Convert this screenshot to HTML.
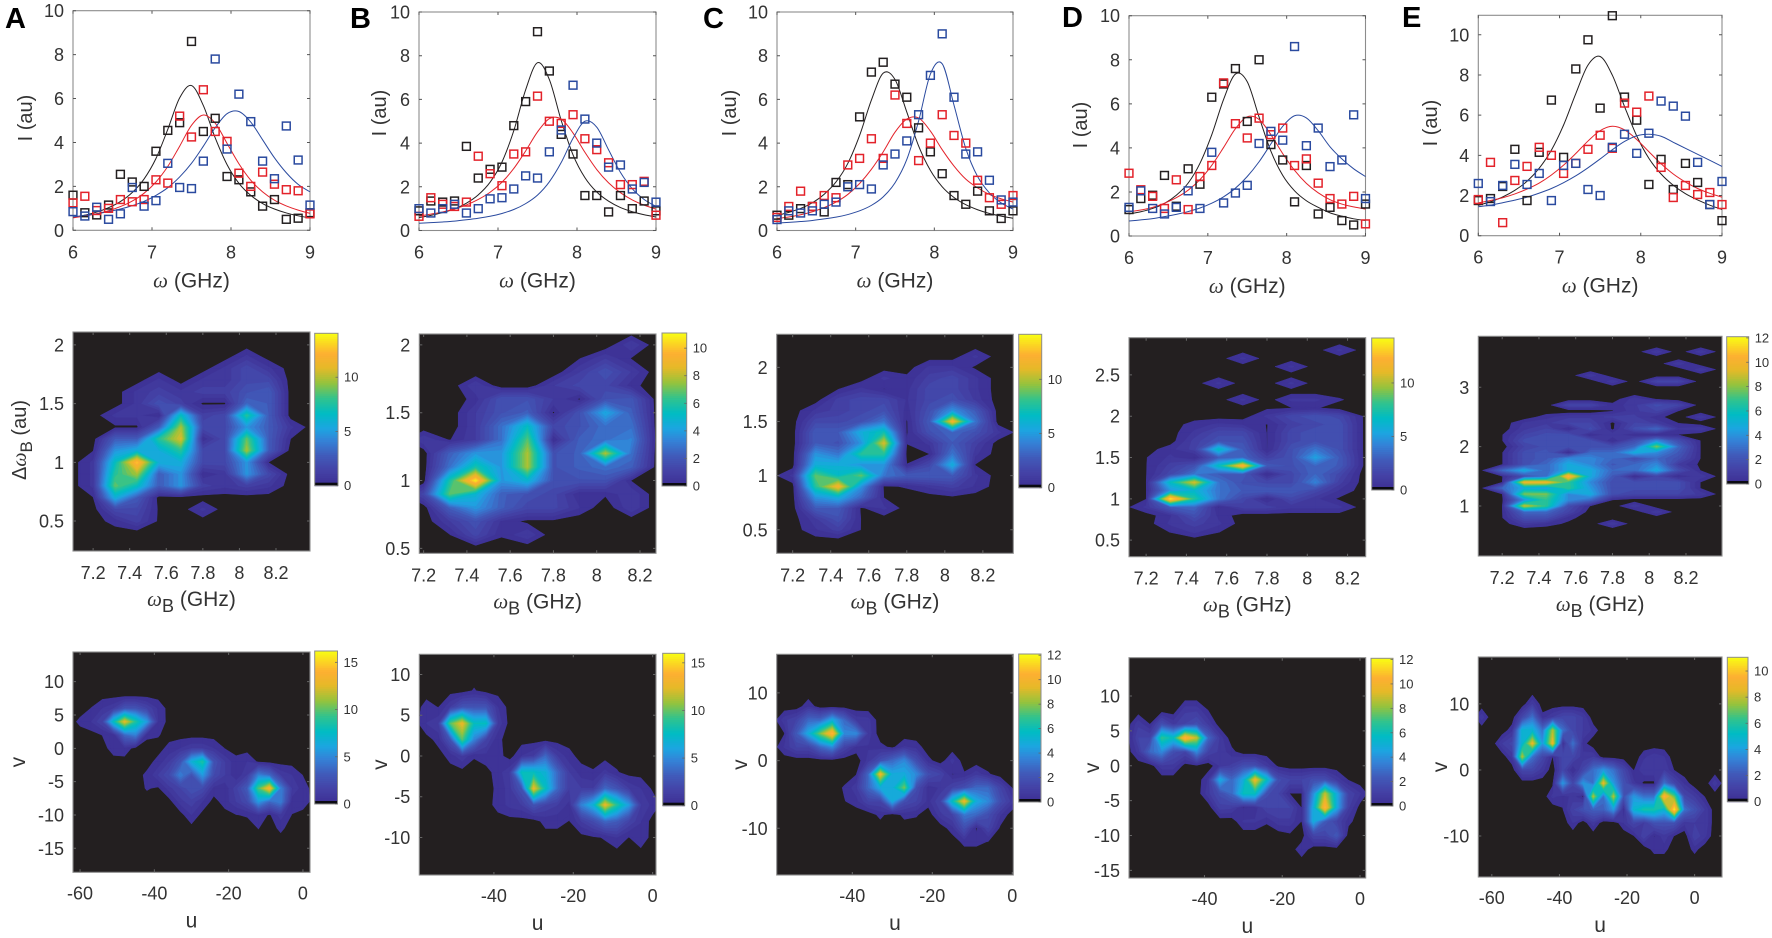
<!DOCTYPE html>
<html lang="en">
<head>
<meta charset="utf-8">
<title>Five-column spectra and contour figure</title>
<style>
html,body{margin:0;padding:0;background:#fff;width:1772px;height:938px;overflow:hidden}
svg{display:block;filter:blur(.35px)}
text{font-family:"Liberation Sans",sans-serif;fill:#333}
</style>
</head>
<body>
<svg id="fig" xmlns="http://www.w3.org/2000/svg" width="1772" height="938" viewBox="0 0 1772 938"></svg>
<script>
/* ---------- spectra data: omega grid, measured points, fitted curves ---------- */
const omega=[6,6.15,6.3,6.45,6.6,6.75,6.9,7.05,7.2,7.35,7.5,7.65,7.8,7.95,8.1,8.25,8.4,8.55,8.7,8.85,9];
const pointsABlack=[1.6,.8,.7,1.15,2.55,2.2,2,3.6,4.55,4.9,8.6,4.5,5.1,2.45,2.3,1.75,1.1,1.4,.5,.55,.8];
const pointsARed=[1.25,1.55,.9,1,1.4,1.3,1.4,2.3,2.15,5.2,4.25,6.4,4.5,4.05,2.6,2,2.65,2.1,1.85,1.8,.75];
const pointsABlue=[.85,.65,1.05,.5,.75,1.95,1.1,1.35,3.05,1.95,1.9,3.15,7.8,3.7,6.2,4.95,3.15,2.35,4.75,3.2,1.15];
const pointsBBlack=[.9,1.35,1.3,1.35,3.85,2.4,2.8,2.9,4.8,5.9,9.1,7.3,4.4,3.5,1.6,1.6,.85,1.6,1,1.35,.9];
const pointsBRed=[.65,1.5,1.2,1.1,1.3,3.4,2.6,2.05,3.5,3.6,6.15,5,4.9,5.3,4.2,3.7,3.1,2.1,2.1,2.25,.7];
const pointsBBlue=[1,.8,1,1.2,.8,1,1.45,1.5,1.9,2.5,2.4,3.6,4.6,6.65,5.1,4,2.9,3,1.9,2.2,1.3];
const pointsCBlack=[.7,.7,1,1.1,.85,2.2,2.1,5.2,7.25,7.7,6.7,6.1,4.7,3.6,2.6,1.6,1.2,1.8,.9,.55,.9];
const pointsCRed=[.6,1.1,1.8,1.1,1.6,1.5,3,3.3,4.2,3.3,6.2,4.9,3.2,4,5.3,4.35,4,2.3,1.5,1.2,1.6];
const pointsCBlue=[.5,.9,.8,.9,1.2,1.3,2,2.1,1.9,3,3.5,4.1,5.3,7.1,9,6.1,3.5,3.6,2.3,1.4,1.3];
const pointsDBlack=[1.2,1.7,1.85,2.75,1.35,3.05,2.35,6.3,6.9,7.6,5.2,8,4.15,3.45,1.55,3.2,1,1.3,.7,.5,1.45];
const pointsDRed=[2.85,2.1,1.8,1.25,2.55,1.2,2.7,3.2,6.95,5.1,4.45,5.35,4.6,4.9,3.2,3.5,2.4,1.7,1.45,1.8,.55];
const pointsDBlue=[1.3,2.05,1.25,1,1.3,2.05,1.25,3.8,1.5,1.95,2.3,4.2,4.75,4.35,8.6,4.1,4.9,3.15,3.45,5.5,1.7];
const pointsEBlack=[1.75,1.85,2.45,4.3,1.75,4.15,6.75,3.9,8.3,9.75,6.35,10.95,6.9,5.75,2.55,3.8,2.3,3.6,2.65,1.55,.75];
const pointsERed=[1.8,3.65,.65,2.75,3.45,4.4,4,3.1,3.6,4.3,5,4.35,6.6,6.15,6.95,3.4,1.9,2.5,2.05,2.15,1.55];
const pointsEBlue=[2.6,1.7,2.5,3.55,2.55,3.1,1.75,3.5,3.6,2.3,2,4.4,5.05,4.1,5.1,6.7,6.45,5.95,3.65,1.55,2.7];

const fitABlack=[.58,.69,.83,1.03,1.31,1.72,2.34,3.27,4.6,6.03,6.59,5.68,4.21,2.99,2.14,1.59,1.22,.97,.79,.66,.56];
const fitARed=[.57,.65,.76,.89,1.08,1.33,1.69,2.2,2.91,3.83,4.78,5.25,4.88,3.96,3.03,2.28,1.75,1.37,1.11,.92,.77];
const fitABlue=[.61,.68,.75,.85,.97,1.12,1.32,1.59,1.94,2.43,3.05,3.83,4.67,5.31,5.41,4.93,4.12,3.3,2.62,2.09,1.75];
const fitBBlack=[.59,.69,.82,.99,1.25,1.63,2.21,3.13,4.57,6.44,7.68,6.91,5.04,3.46,2.42,1.76,1.34,1.05,.86,.72,.62];
const fitBRed=[.66,.75,.85,.99,1.17,1.42,1.75,2.21,2.84,3.64,4.51,5.12,5.1,4.46,3.58,2.79,2.18,1.73,1.4,1.16,.98];
const fitBBlue=[.33,.36,.39,.43,.49,.56,.65,.78,.96,1.23,1.62,2.23,3.11,4.22,5,4.73,3.69,2.66,1.91,1.42,1.1];
const fitCBlack=[.69,.83,1.01,1.27,1.66,2.22,3.07,4.35,5.97,7.2,6.91,5.42,3.87,2.75,2,1.51,1.18,.95,.78,.66,.56];
const fitCRed=[.55,.62,.72,.86,1.05,1.3,1.65,2.15,2.8,3.6,4.5,5.1,5.15,4.55,3.7,2.95,2.35,1.95,1.65,1.45,1.3];
const fitCBlue=[.34,.37,.41,.46,.53,.61,.73,.9,1.15,1.54,2.18,3.25,5.01,7.16,7.63,5.74,3.75,2.47,1.72,1.26,.98];
const fitDBlack=[1,1.1,1.25,1.48,1.85,2.4,3.3,4.6,6.2,7.35,7,5.4,3.85,2.75,2.05,1.6,1.3,1.05,.9,.78,.7];
const fitDRed=[1.1,1.18,1.3,1.49,1.74,2.08,2.56,3.21,4.02,4.87,5.41,5.29,4.6,3.74,2.98,2.39,1.96,1.65,1.45,1.32,1.22];
const fitDBlue=[.68,.73,.79,.88,.98,1.11,1.27,1.49,1.78,2.17,2.7,3.37,4.18,4.98,5.46,5.36,4.78,4.05,3.5,3.05,2.7];
const fitEBlack=[1.51,1.69,1.93,2.26,2.71,3.36,4.26,5.51,7.07,8.49,8.92,7.99,6.43,4.97,3.85,3.07,2.51,2.09,1.78,1.52,1.3];
const fitERed=[1.63,1.75,1.89,2.08,2.32,2.62,3.02,3.51,4.09,4.71,5.23,5.45,5.27,4.79,4.18,3.58,3.07,2.67,2.35,2.11,1.92];
const fitEBlue=[1.44,1.52,1.64,1.77,1.92,2.12,2.35,2.64,2.98,3.38,3.82,4.28,4.69,4.97,5.05,4.95,4.65,4.35,4.05,3.75,3.45];

/* ---------- middle-row contour data: wB columns, dw rows, intensity grid ---------- */
const wBGrid=[7.08,7.2,7.32,7.44,7.56,7.68,7.8,7.92,8.04,8.16,8.28,8.4];
const dwA=[1.9,1.8,1.7,1.6,1.5,1.4,1.3,1.2,1.1,1,.9,.8,.7,.6,.5];
const midA=[
[0,0,0,0,0,0,0,0,1,0,0,0],
[0,0,0,0,0,0,0,1,2,1,0,0],
[0,0,0,0,1,0,1,1,2,2,0,0],
[0,0,0,1,1.5,1,1.5,1.5,2.5,3,0,0],
[0,0,0,1,2.5,1.5,.2,.2,3.5,3,0,0],
[0,0,1,1,.3,7,1.5,2,8,3,0,0],
[0,0,.2,.2,3,10,2,2,5,3,1,0],
[0,0,3,3,8,11,.5,2,9,3,.33,0],
[0,.3,5,6,6,8,2,2,10,3,0,0],
[0,1,7,13,6,6,2,2,5,.3,0,0],
[0,1,8,10,3,5,.5,1,5,2,0,0],
[0,1,9,7,3,5,1.5,1,1.5,1,0,0],
[0,.3,6,3,0,0,0,0,0,0,0,0],
[0,0,2,2,.2,0,1,0,0,0,0,0],
[0,0,.6,1.5,.2,0,0,0,0,0,0,0]];
const dwB=[2,1.9,1.8,1.7,1.6,1.5,1.4,1.3,1.2,1.1,1,.9,.8,.7,.6];
const midB=[
[0,0,0,0,0,0,0,0,0,1,0,0],
[0,0,0,0,0,0,0,.3,1,.3,0,0],
[0,0,0,0,0,0,0,1,2,1,0,0],
[0,0,0,1,0,0,1,1.5,1.5,.5,0,0],
[0,0,0,.5,2,2,1,.25,2,2.2,0,0],
[0,0,0,1,2,2.5,.25,2,4.5,2.5,0,0],
[0,0,0,1,3,5.5,1.5,2,3,3,0,0],
[0,1,.3,1,3,7,.3,2.5,3,3.5,0,0],
[0,0,2.5,4,4,8,2,2.5,8,3,0,0],
[0,0,3,6,4,8,2,2.5,3,2.5,0,0],
[0,0,6,11,4,5,2,2,2,.3,0,0],
[0,1.5,7,5,2.5,2,1.5,.4,.4,1,0,0],
[0,0,2.5,4,2.5,1.5,1.5,.7,0,1,0,0],
[0,0,1,2,.6,.2,.2,0,0,0,0,0],
[0,0,.3,1.5,.4,1,0,0,0,0,0,0]];
const dwC=[2.1,2,1.9,1.8,1.7,1.6,1.5,1.4,1.3,1.2,1.1,1,.9,.8,.7,.6,.5];
const midC=[
[0,0,0,0,0,0,0,0,0,1,0,0],
[0,0,0,0,0,0,0,1,1,.2,0,0],
[0,0,0,0,0,1,.5,1.5,2,1,0,0],
[0,0,0,.3,1,.3,.7,2,2,1,0,0],
[0,0,0,1.5,2,2,.8,2,2.5,1.2,0,0],
[0,0,1,1.5,2,2.5,.6,2.5,5,3,0,0],
[0,0,2,2,2.5,4,.25,3,12,4,0,0],
[0,0,3,3,6,7.5,.25,2.5,3.5,2.5,1,0],
[0,0,3,2.5,5,11,.35,1,3,1.5,0,0],
[0,0,5,4,8,8,.1,.33,4,1,0,0],
[0,0,6,6,5,5,.35,2,6,.3,0,0],
[0,1,9,7,9,4,3,3,3,1,0,0],
[0,0,8,12,5,.2,.4,1,1.5,.8,0,0],
[0,0,5,6,3.5,.3,0,0,.2,0,0,0],
[0,0,3,3,.2,1,0,0,0,0,0,0],
[0,0,1.2,2.5,.3,0,0,0,0,0,0,0],
[0,0,.8,1.5,.3,0,0,0,0,0,0,0]];
const dwD=[2.8,2.7,2.6,2.5,2.4,2.3,2.2,2.1,2,1.9,1.8,1.7,1.6,1.5,1.4,1.3,1.2,1.1,1,.9,.8,.7,.6];
const midD=[
[0,0,0,0,0,0,0,0,0,1,0,0],
[0,0,0,0,0,1,0,0,0,0,0,0],
[0,0,0,0,0,0,0,1,0,0,0,0],
[0,0,0,0,0,0,0,0,0,0,0,0],
[0,0,0,0,1,0,0,1,0,0,0,0],
[0,0,0,0,0,0,0,0,0,0,0,0],
[0,0,0,0,0,1,0,1,1,.4,0,0],
[0,0,0,0,0,0,.2,.3,.4,0,0,0],
[0,0,0,0,0,0,1,2,2.5,2,.25,0],
[0,0,0,.6,1,.8,.3,1.5,2,2.5,.25,0],
[0,0,0,1,2,2,.3,2,2.5,2.5,.25,0],
[0,0,0,1.5,2.5,2.5,.3,2,2.5,2.5,.25,0],
[0,0,.7,1.5,7,3,.3,2.5,4,2.5,.25,0],
[0,.3,1,.3,3,3.5,1.5,2.5,5.5,3,.25,0],
[0,.3,1.5,2.5,7,12.5,3,2.5,3.5,3,.25,0],
[0,.3,2,4,3,3,.3,2,3.5,2,0,0],
[0,.3,7,11,4,2.5,2,2,4.5,1.5,0,0],
[0,.3,5,6.5,4,3,3,3,2,.8,0,0],
[0,.3,14,8,4,2,.25,2,1,.2,0,0],
[0,1,3,3.5,.3,1.5,1.5,1,1,1,0,0],
[0,0,.8,2.5,.7,0,0,0,0,0,0,0],
[0,0,1,1.5,1,0,0,0,0,0,0,0],
[0,0,.35,1,.35,0,0,0,0,0,0,0]];
const dwE=[3.6,3.5,3.4,3.3,3.2,3.1,3,2.9,2.8,2.7,2.6,2.5,2.4,2.3,2.2,2.1,2,1.9,1.8,1.7,1.6,1.5,1.4,1.3,1.2,1.1,1,.9,.8,.7];
const midE=[
[0,0,0,0,0,0,0,0,1,0,1,0],
[0,0,0,0,0,0,0,0,0,0,0,0],
[0,0,0,0,0,0,0,0,0,1,0,0],
[0,0,0,0,0,0,0,0,0,0,1,0],
[0,0,0,0,0,1,0,0,0,0,0,0],
[0,0,0,0,0,0,1,0,1.5,1.5,0,0],
[0,0,0,0,0,0,0,0,0,0,0,0],
[0,0,0,0,0,0,0,0,0,0,0,0],
[0,0,0,0,0,0,0,1,.3,0,0,0],
[0,0,0,0,1.5,1.5,.5,1,2,1.5,0,0],
[0,0,0,0,0,0,.3,1,1.5,.3,0,0],
[0,0,0,.6,1,1,1.2,1.2,.5,0,1,0],
[0,0,.8,1,1.5,1.5,.2,1.5,1,.3,0,0],
[0,0,1,1.5,.3,2,.2,2,3,.8,1,0],
[0,.3,1.5,2,2,.3,1,.3,.3,.3,0,0],
[0,.3,2,2,2,2,.3,2,4,2,.3,0],
[0,0,1.5,2,2,2,2,3,8,3,.3,0],
[0,.3,2,2.5,.3,3,3,5,4,2.5,.3,0],
[0,.3,2,2.5,4,4,3,2,3,2,.3,0],
[0,.3,2,3,5,4,2.5,3,4,1,.2,0],
[0,3,5,3,5,5,3,3,5,2,.3,0],
[0,.3,2,3,11,5,2.5,.3,1.5,.3,1,0],
[0,.3,10,10,7,4,2,2,2,2,.3,0],
[0,3,5,4.5,7,4.5,2,2,2,2,.3,0],
[0,.3,8,8,4,5,2,1.5,1.5,1.5,1,0],
[0,.2,4,7,4,3,.3,0,0,0,0,0],
[0,.3,9,7,2,.3,0,1,0,0,0,0],
[0,.3,3,3,1.5,0,0,0,1,0,0,0],
[0,.3,2,2,.5,0,0,0,0,0,0,0],
[0,0,1,.6,.2,0,1,0,0,0,0,0]];

/* ---------- bottom-row contour data: each row is [v, first u, values every 3 u] ---------- */
const bottomA=[
[6,-57,.35,1,1.5,3,3,2,.9],
[4,-60,.5,1,2,8,13,9,6,1],
[2,-54,.35,.6,4,5,.5,.4],
[0,-51,.7,.8,0,0,0,.6,1,1.5,1.5,1,.3],
[-2,-39,.6,1.5,3,7,9,3,1.5,.6,1,.2],
[-4,-42,.5,1.5,2.5,5,3,6,2.5,1.5,.5,1.5,5,4,1.5,1,.3],
[-6,-42,.4,.2,1.3,2,3,2.5,.8,.6,1.8,3.5,10,14,5,1.5,.7],
[-8,-33,1.3,1.8,1,0,.7,1.5,2.5,6,4,5,.7,.8],
[-10,-30,1,0,0,0,.3,.4,.9,.2,1.3,.3],
[-12,-12,.35,0,.5]];
const bottomB=[
[8,-45,.4],
[6,-57,.6,.3,1.5,3,3,3,1],
[4,-57,1,1.5,10,13,8,8,1.5],
[2,-54,.6,3,10,5,2,.5],
[0,-51,.6,1.5,.4,.8,.6,0,1,1.5,4,1.5,.6],
[-2,-39,.7,1.5,8,8,7,4,1.5,.7,.4,1.2,.4],
[-4,-39,.5,1.3,3,13,8,4,1.5,1.5,1.5,4,3,1.5,1,.2],
[-6,-39,.6,1.2,1.5,3,2,1.5,.8,5,7,13,9,6,1.5,.8],
[-8,-27,.6,.6,.3,1.5,2.5,4,3.5,2,1],
[-10,-15,.2,.4,1,.3,.9]];
const bottomC=[
[8,-51,.7],
[6,-57,1,1.5,3,3,5,3,1,.9],
[4,-57,.3,2.5,5,8,11,4,4,1],
[2,-57,.8,1.5,1.5,3,4,1.5,.6,.7,.5,.2,.8,.6],
[0,-36,.9,2,3,4,2,.5,0,.9],
[-2,-39,.3,3,10,5,5,4,2,1.5,.3,.4,1,.4],
[-4,-42,.4,1,3,5,5,8,2,.5,.8,1.5,2,3,3,1.5,.3],
[-6,-42,.3,.6,1.5,1.5,5,2,1.5,.6,1.5,6,10,5,4,2,.9],
[-8,-33,.5,0,.5,.4,0,1,1.5,3.5,3,2,.8],
[-10,-15,.6,2,.25,1.5,.2],
[-12,-12,.5,.5,.3]];
const bottomD=[
[8,-45,1,1,.3],
[6,-57,1,.3,2,1,1.5,2,1],
[4,-57,1.5,1.5,7,6,11,9,3,1],
[2,-57,.9,3,4,2,1.5,4,1.5,1,.5],
[0,-51,1,1,.1,.2,0,.8,1.2,2,2,1,.2],
[-2,-39,.8,5,3,5,10,6,2,1.5,1.5,2,2,1,.3],
[-4,-39,1,2,3,6,6,2,1.5,.3,.3,4,9,5,1.5,.8],
[-6,-36,1.3,1.2,.3,.5,1.5,1.5,1.5,.3,5,11,5,1.2,.1],
[-8,-30,.8,.8,.4,1,1,.3,5,2.5,1.5,.5],
[-10,-18,.2,0,1.5,1.5,2.5],
[-12,-15,.7]];
const bottomE=[
[10,-48,1],
[8,-63,.9,0,0,0,1.5,3,.5,1,1.5,1.5,1],
[6,-54,.6,5,5,3,8,3,1.5,1,.6],
[4,-57,1,1.5,5,9,4,9,.4,3,.5],
[2,-54,.8,8,3,1.5,.3,1.5,1.5,.8,1,0,0,0,0,.6,.9,.7],
[0,-51,1.5,1.5,.8,0,1.5,.3,1.5,3,4,3,1.5,.3,1,1,1,.3],
[-2,-42,.2,4,1.5,4,3,9,4,2,.8,.2,.2,3,1.5,.6,0,0,.9],
[-4,-42,.8,.5,.8,.2,8,3,8,2,4,3,3,10,7,1.5,1,.3],
[-6,-39,.3,1.3,2,2.5,2.5,4,.3,5,6,6,5,11,3,2,1],
[-8,-36,.7,0,.9,0,0,.7,1.5,1,2,2,2,.8,1,1],
[-10,-18,.3,1.3,.3,.9,.3,0,1.3,.8],
[-12,-12,.5,.5,0,0,.5]];

/* ---------- tick labels ---------- */
const topXTicks=[6,7,8,9];
const topYTicks=[0,2,4,6,8,10];
const midXTicks=[7.2,7.4,7.6,7.8,8,8.2];
const midYTicksABC=[.5,1,1.5,2];
const midYTicksD=[.5,1,1.5,2,2.5];
const midYTicksE=[1,2,3];
const botXTicksWide=[-60,-40,-20,0];
const botXTicksNarrow=[-40,-20,0];
const botYTicksA=[-15,-10,-5,0,5,10];
const botYTicksB=[-10,-5,0,5,10];
const botYTicksSparse=[-10,0,10];
const cbTicks5=[0,5,10];
const cbTicks15=[0,5,10,15];
const cbTicks2=[0,2,4,6,8,10];
const cbTicks12=[0,2,4,6,8,10,12];

/* ---------- layout ---------- */
const columns=[
{id:'a',letter:'A',lx:5,ly:28,ylx:25,
 top:{l:73,r:310,t:10.7,b:230.3,yc:118,ymax:10,pts:[pointsABlack,pointsARed,pointsABlue],fit:[fitABlack,fitARed,fitABlue]},
 mid:{l:73,r:310,t:332,b:551,xlim:[7.09,8.386],ylim:[.245,2.11],ys:dwA,z:midA,yt:midYTicksABC,cmax:14.05,cb:[314.7,338,333.3,485.7],cbt:cbTicks5},
 bot:{l:73,r:310,t:652,b:872.3,xlim:[-61.9,1.9],ylim:[-18.6,14.45],rows:bottomA,xt:botXTicksWide,yt:botYTicksA,cmax:16.2,cb:[314.7,337.5,651,804],cbt:cbTicks15,vx:18}},
{id:'b',letter:'B',lx:350,ly:28,ylx:379,
 top:{l:419,r:656,t:12,b:230.5,yc:113,ymax:10,pts:[pointsBBlack,pointsBRed,pointsBBlue],fit:[fitBBlack,fitBRed,fitBBlue]},
 mid:{l:419.3,r:656,t:334,b:553.3,xlim:[7.18,8.274],ylim:[.464,2.08],ys:dwB,z:midB,yt:midYTicksABC,cmax:11.1,cb:[662,686.7,333,486],cbt:cbTicks2},
 bot:{l:419.3,r:656,t:654.3,b:875,xlim:[-58.8,.84],ylim:[-14.6,12.47],rows:bottomB,xt:botXTicksNarrow,yt:botYTicksB,cmax:16,cb:[662.7,684.7,653.3,805.7],cbt:cbTicks15,vx:380}},
{id:'c',letter:'C',lx:703,ly:28,ylx:729,
 top:{l:777,r:1013,t:12,b:230.5,yc:113,ymax:10,pts:[pointsCBlack,pointsCRed,pointsCBlue],fit:[fitCBlack,fitCRed,fitCBlue]},
 mid:{l:776.7,r:1013.3,t:334.3,b:553.3,xlim:[7.116,8.36],ylim:[.283,2.305],ys:dwC,z:midC,yt:midYTicksABC,cmax:14.15,cb:[1018.7,1041.7,334.3,487.7],cbt:cbTicks5},
 bot:{l:776.7,r:1013.3,t:654.3,b:875,xlim:[-58.9,.25],ylim:[-16.9,15.7],rows:bottomC,xt:botXTicksNarrow,yt:botYTicksSparse,cmax:12.1,cb:[1018.7,1041,654,802],cbt:cbTicks12,vx:740}},
{id:'d',letter:'D',lx:1062,ly:27,ylx:1080,
 top:{l:1129,r:1365.5,t:15.7,b:236,yc:125,ymax:10,pts:[pointsDBlack,pointsDRed,pointsDBlue],fit:[fitDBlack,fitDRed,fitDBlue]},
 mid:{l:1129,r:1365.7,t:337.7,b:556.7,xlim:[7.115,8.29],ylim:[.3,2.95],ys:dwD,z:midD,yt:midYTicksD,cmax:14.2,cb:[1371.7,1394,338,490],cbt:cbTicks5},
 bot:{l:1129,r:1365.7,t:657.7,b:878,xlim:[-59.4,1.46],ylim:[-16.1,15.5],rows:bottomD,xt:botXTicksNarrow,yt:botYTicksA,cmax:12.1,cb:[1371,1393,658.3,806],cbt:cbTicks12,vx:1092}},
{id:'e',letter:'E',lx:1402,ly:27,ylx:1430,
 top:{l:1478.3,r:1722,t:15.3,b:235.7,yc:123,ymax:10.97,pts:[pointsEBlack,pointsERed,pointsEBlue],fit:[fitEBlack,fitERed,fitEBlue]},
 mid:{l:1478.3,r:1722,t:336.3,b:556,xlim:[7.07,8.396],ylim:[.156,3.86],ys:dwE,z:midE,yt:midYTicksE,cmax:12.1,cb:[1726.7,1748.7,336.7,484],cbt:cbTicks12},
 bot:{l:1478.3,r:1722,t:657,b:877,xlim:[-64,8.1],ylim:[-16.2,17.1],rows:bottomE,xt:botXTicksWide,yt:botYTicksSparse,cmax:11.05,cb:[1727.3,1748,657.3,801.7],cbt:cbTicks2,vx:1440}}
];
const seriesColors=['#231f20','#e3222a','#2a4a9f'];
const seriesNames=['black','red','blue'];
const cmapStops=[[0,60,45,145],[.1,68,65,165],[.2,65,90,185],[.3,52,130,215],[.38,28,165,225],[.48,0,188,195],[.58,50,195,140],[.68,150,195,60],[.78,230,185,40],[.87,253,175,50],[1,249,251,20]];

/* ---------- helpers ---------- */
const NS='http://www.w3.org/2000/svg';
const fig=document.getElementById('fig');
function mk(tag,attrs,parent){
  const el=document.createElementNS(NS,tag);
  for(const k in attrs){el.setAttribute(k,attrs[k]);}
  parent.appendChild(el);
  return el;
}
function cmap(f){
  f=Math.max(0,Math.min(1,f));
  for(let i=1;i<cmapStops.length;i++){
    const a=cmapStops[i-1],b=cmapStops[i];
    if(f<=b[0]){
      const t=(f-a[0])/(b[0]-a[0]);
      return 'rgb('+[1,2,3].map(j=>Math.round(a[j]+(b[j]-a[j])*t)).join(',')+')';
    }
  }
  return 'rgb(249,251,20)';
}
function linear(d0,d1,r0,r1){return v=>r0+(v-d0)/(d1-d0)*(r1-r0);}
function label(parent,x,y,s,size,anchor,name){
  const t=mk('text',{x:x,y:y,'font-size':size,'text-anchor':anchor},parent);
  t.textContent=s;
  
  
  return t;
}
function frame(parent,a,xs,ys,sx,sy,tickColor,xTickBase){
  const box=mk('rect',{x:a.l,y:a.t,width:a.r-a.l,height:a.b-a.t,fill:'none',stroke:'#8c8c8c','stroke-width':1.1},parent);
  
  
  xs.forEach(v=>{
    const x=sx(v);
    const tk=mk('path',{d:'M'+x+' '+a.b+'v-3M'+x+' '+a.t+'v3',stroke:tickColor,'stroke-width':1,fill:'none'},parent);
    
    
    label(parent,x,xTickBase,String(v),18,'middle','x-tick-label');
  });
  ys.forEach(v=>{
    const y=sy(v);
    const tk=mk('path',{d:'M'+a.l+' '+y+'h3M'+a.r+' '+y+'h-3',stroke:tickColor,'stroke-width':1,fill:'none'},parent);
    
    
    label(parent,a.l-9,y+6.5,String(v),18,'end','y-tick-label');
  });
}
function omegaLabel(parent,x,y,sub,name){
  const t=mk('text',{x:x,y:y,'font-size':21,'text-anchor':'middle'},parent);
  
  
  const w=mk('tspan',{'font-family':'Liberation Serif','font-style':'italic'},t);
  w.textContent='\u03c9';
  if(sub){
    const b=mk('tspan',{dy:6,'font-size':18},t);
    b.textContent='B';
    const r=mk('tspan',{dy:-6},t);
    r.textContent=' (GHz)';
  }else{
    const r=mk('tspan',{},t);
    r.textContent=' (GHz)';
  }
}
function smoothPath(px,py){
  let d='M'+px[0].toFixed(2)+' '+py[0].toFixed(2);
  for(let i=0;i<px.length-1;i++){
    const i0=Math.max(0,i-1),i3=Math.min(px.length-1,i+2);
    const c1x=px[i]+(px[i+1]-px[i0])/6,c1y=py[i]+(py[i+1]-py[i0])/6;
    const c2x=px[i+1]-(px[i3]-px[i])/6,c2y=py[i+1]-(py[i3]-py[i])/6;
    d+='C'+c1x.toFixed(2)+' '+c1y.toFixed(2)+' '+c2x.toFixed(2)+' '+c2y.toFixed(2)+' '+px[i+1].toFixed(2)+' '+py[i+1].toFixed(2);
  }
  return d;
}
/* region of one grid cell at or above a level: walk its four corners, cutting each edge linearly;
   a saddle whose mean is below the level yields two separate corner pieces */
function cellRegions(cx,cy,cz,L){
  const cut=(i,j)=>{
    const t=(L-cz[i])/(cz[j]-cz[i]);
    return [cx[i]+(cx[j]-cx[i])*t,cy[i]+(cy[j]-cy[i])*t];
  };
  const inside=cz.map(v=>v>=L);
  const saddle=inside[0]===inside[2]&&inside[1]===inside[3]&&inside[0]!==inside[1];
  if(saddle&&(cz[0]+cz[1]+cz[2]+cz[3])/4<L){
    const out=[];
    for(let i=0;i<4;i++){
      if(inside[i]){
        const n=(i+1)%4,p=(i+3)%4;
        out.push([[cx[i],cy[i]],cut(i,n),cut(i,p)]);
      }
    }
    return out;
  }
  const poly=[];
  for(let i=0;i<4;i++){
    const j=(i+1)%4;
    if(inside[i]){poly.push([cx[i],cy[i]]);}
    if(inside[i]!==inside[j]){poly.push(cut(i,j));}
  }
  return poly.length>2?[poly]:[];
}
function contour(parent,a,xs,ys,z,sx,sy,cmax,name){
  const bg=mk('rect',{x:a.l,y:a.t,width:a.r-a.l,height:a.b-a.t,fill:'#231f20'},parent);
  
  
  const cp=mk('clipPath',{id:'clip-'+name},parent);
  mk('rect',{x:a.l,y:a.t,width:a.r-a.l,height:a.b-a.t},cp);
  const g=mk('g',{'clip-path':'url(#clip-'+name+')'},parent);
  
  
  const levels=[.33];
  const N=32;
  for(let k=1;k<=N;k++){levels.push(cmax*k/N*.99);}
  levels.forEach((L,li)=>{
    let d='';
    for(let r=0;r<ys.length-1;r++){
      for(let c=0;c<xs.length-1;c++){
        const cz=[z[r][c],z[r][c+1],z[r+1][c+1],z[r+1][c]];
        if(Math.max(cz[0],cz[1],cz[2],cz[3])<L){continue;}
        const cx=[sx(xs[c]),sx(xs[c+1]),sx(xs[c+1]),sx(xs[c])];
        const cy=[sy(ys[r]),sy(ys[r]),sy(ys[r+1]),sy(ys[r+1])];
        cellRegions(cx,cy,cz,L).forEach(poly=>{
          d+='M'+poly.map(p=>p[0].toFixed(1)+' '+p[1].toFixed(1)).join('L')+'Z';
        });
      }
    }
    if(d){
      const col=cmap(li===0?.03:L/cmax);
      const band=mk('path',{d:d,fill:col,stroke:col,'stroke-width':.5},g);
      
      
    }
  });
}
function colorbar(parent,box,cmax,ticks,name){
  const g=mk('g',{},parent);
  
  
  const x0=box[0],x1=box[1],y0=box[2],y1=box[3];
  const h=y1-y0,steps=80;
  for(let i=0;i<steps;i++){
    const seg=mk('rect',{x:x0,y:y0+h*i/steps,width:x1-x0,height:h/steps+.5,fill:cmap(1-i/steps)},g);
    
    
  }
  const zero=mk('rect',{x:x0,y:y1-3,width:x1-x0,height:3,fill:'#0b0b12'},g);
  
  
  const edge=mk('rect',{x:x0,y:y0,width:x1-x0,height:h,fill:'none',stroke:'#8c8c8c','stroke-width':1},g);
  
  
  const scale=linear(0,cmax,y1,y0);
  ticks.forEach(v=>{
    const y=scale(v);
    const tk=mk('path',{d:'M'+x1+' '+y+'h-2.5',stroke:'#666','stroke-width':.8,fill:'none'},g);
    
    
    label(g,x1+6,y+4.5,String(v),13,'start','colorbar-tick-label');
  });
}

/* ---------- draw ---------- */
columns.forEach(col=>{
  const letter=mk('text',{x:col.lx,y:col.ly,'font-size':29,'font-weight':'bold',style:'fill:#000'},fig);
  letter.textContent=col.letter;
  
  

  /* spectrum */
  const T=col.top;
  const gt=mk('g',{},fig);
  
  
  const tx=linear(6,9,T.l,T.r),ty=linear(0,T.ymax,T.b,T.t);
  const bgTop=mk('rect',{x:T.l,y:T.t,width:T.r-T.l,height:T.b-T.t,fill:'#fff'},gt);
  
  
  frame(gt,T,topXTicks,topYTicks,tx,ty,'#555',T.b+28);
  T.fit.forEach((series,si)=>{
    const line=mk('path',{d:smoothPath(omega.map(tx),series.map(ty)),fill:'none',stroke:seriesColors[si],'stroke-width':1},gt);
    
    
  });
  T.pts.forEach((series,si)=>{
    series.forEach((v,i)=>{
      const sq=mk('rect',{x:tx(omega[i])-3.9,y:ty(v)-3.9,width:7.8,height:7.8,fill:'none',stroke:seriesColors[si],'stroke-width':1.5},gt);
      
      
    });
  });
  omegaLabel(gt,(T.l+T.r)/2,T.b+57,false,'x-axis-title');
  const yl=mk('text',{'font-size':20,'text-anchor':'middle',transform:'translate('+(col.ylx+7)+' '+T.yc+') rotate(-90)'},gt);
  yl.textContent='I (au)';
  
  

  /* omega_B vs delta-omega contour */
  const M=col.mid;
  const gm=mk('g',{},fig);
  
  
  const mx=linear(M.xlim[0],M.xlim[1],M.l,M.r),my=linear(M.ylim[0],M.ylim[1],M.b,M.t);
  const step=.1;
  const ysM=[M.ys[0]+step].concat(M.ys,[M.ys[M.ys.length-1]-step]);
  const blank=wBGrid.map(()=>0);
  const zM=[blank].concat(M.z,[blank]);
  contour(gm,M,wBGrid,ysM,zM,mx,my,M.cmax,'resonance-contour-'+col.id);
  frame(gm,M,midXTicks,M.yt,mx,my,'#666',M.b+28);
  omegaLabel(gm,(M.l+M.r)/2,M.b+55,true,'x-axis-title');
  if(col.id==='a'){
    const dy=mk('text',{'font-size':20,'text-anchor':'middle',transform:'translate(26 440) rotate(-90)'},gm);
    
    
    const d1=mk('tspan',{},dy);
    d1.textContent='\u0394';
    const d2=mk('tspan',{'font-family':'Liberation Serif','font-style':'italic'},dy);
    d2.textContent='\u03c9';
    const d3=mk('tspan',{dy:6,'font-size':17},dy);
    d3.textContent='B';
    const d4=mk('tspan',{dy:-6},dy);
    d4.textContent=' (au)';
  }
  colorbar(gm,M.cb,M.cmax,M.cbt,'colorbar-resonance-'+col.id);

  /* u-v contour */
  const B=col.bot;
  const gb=mk('g',{},fig);
  
  
  const bx=linear(B.xlim[0],B.xlim[1],B.l,B.r),by=linear(B.ylim[0],B.ylim[1],B.b,B.t);
  const uAxis=[],vAxis=[];
  for(let u=-66;u<=9;u+=3){uAxis.push(u);}
  for(let v=12;v>=-14;v-=2){vAxis.push(v);}
  const zB=vAxis.map(()=>uAxis.map(()=>0));
  B.rows.forEach(row=>{
    const r=vAxis.indexOf(row[0]);
    const c0=uAxis.indexOf(row[1]);
    for(let i=2;i<row.length;i++){zB[r][c0+i-2]=row[i];}
  });
  contour(gb,B,uAxis,vAxis,zB,bx,by,B.cmax,'uv-contour-'+col.id);
  frame(gb,B,B.xt,B.yt,bx,by,'#666',B.b+27);
  label(gb,(B.l+B.r)/2,B.b+55,'u',21,'middle','x-axis-title');
  const vl=mk('text',{'font-size':21,'text-anchor':'middle',transform:'translate('+(B.vx+7)+' '+((B.t+B.b)/2)+') rotate(-90)'},gb);
  vl.textContent='v';
  
  
  colorbar(gb,B.cb,B.cmax,B.cbt,'colorbar-uv-'+col.id);
});
</script>
</body>
</html>
